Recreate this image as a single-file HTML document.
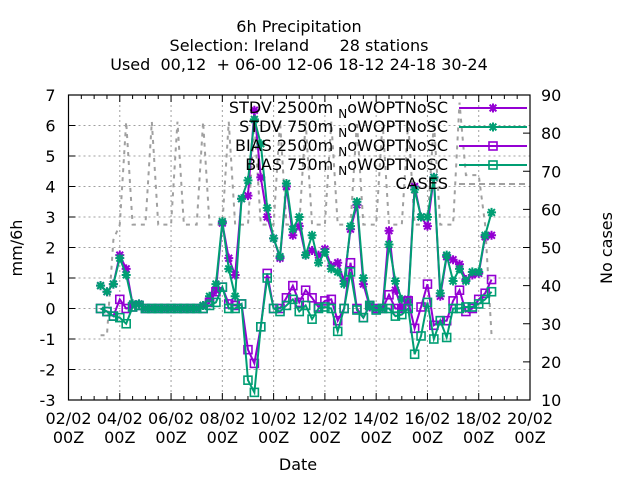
<!DOCTYPE html>
<html><head><meta charset="utf-8"><style>
body{margin:0;background:#fff}
svg text{font-family:"DejaVu Sans","Liberation Sans",sans-serif;font-size:16px;fill:#000}
</style></head><body>
<svg id="c" width="640" height="480" viewBox="0 0 640 480" xmlns="http://www.w3.org/2000/svg">
<g>
<text x="299" y="32" text-anchor="middle">6h Precipitation</text>
<text x="299" y="51" text-anchor="middle" xml:space="preserve">Selection: Ireland      28 stations</text>
<text x="299" y="70" text-anchor="middle" xml:space="preserve">Used  00,12  + 06-00 12-06 18-12 24-18 30-24</text>
</g>
<g id="grid"></g>
<g id="axes"></g>
<g id="series"></g>
<g id="legend"></g>
<text x="22" y="248" text-anchor="middle" transform="rotate(-90 22 248)">mm/6h</text>
<text x="612" y="248" text-anchor="middle" transform="rotate(-90 612 248)">No cases</text>
<text x="298" y="470" text-anchor="middle">Date</text>
</svg>
<script>
const xTickLabels=["02/02","04/02","06/02","08/02","10/02","12/02","14/02","16/02","18/02","20/02"];
const yTicks=[-3,-2,-1,0,1,2,3,4,5,6,7];
const y2Ticks=[10,20,30,40,50,60,70,80,90];
const startHour=30; // 03/02 06Z, hours since 02/02 00Z
const stdv2500=[0.75,0.55,0.8,1.75,1.3,0.15,0.15,0,0,0,0,0,0,0,0,0,0.1,0.3,0.6,2.8,1.65,1.1,3.6,3.7,6.5,4.3,3.0,2.3,1.65,4.0,2.4,2.7,1.75,1.9,1.75,1.95,1.4,1.5,0.9,2.6,3.4,0.8,0.05,0,0,2.55,0.6,0,0.3,4.0,3.0,2.7,4.3,0.4,1.7,1.6,1.45,0.95,1.1,1.15,2.35,2.4];
const stdv750=[0.75,0.55,0.8,1.65,1.1,0.15,0.15,0,0,0,0,0,0,0,0,0,0.1,0.4,0.8,2.85,1.3,0.4,3.6,4.2,6.2,5.4,3.3,2.3,1.7,4.1,2.6,3.0,1.75,2.4,1.5,1.85,1.3,1.2,0.8,2.7,3.5,1.0,0.1,0,0,2.1,0.9,0.3,0.2,3.9,3.0,3.0,4.3,0.5,1.75,0.9,1.3,0.9,1.2,1.2,2.4,3.15];
const bias2500=[0,-0.1,-0.25,0.3,0,0.05,0.1,0,0,0,0,0,0,0,0,0,0,0.2,0.55,0.7,0.15,0.1,0.15,-1.35,-1.8,-0.6,1.15,0,0,0.35,0.75,0.2,0.6,0.35,0.05,0.25,0.3,-0.4,0,1.5,0,-0.3,0.1,0,0,0.45,0,0,0.25,-0.65,0.05,0.8,-0.55,-0.4,-0.4,0.25,0.6,-0.1,0,0.3,0.5,0.95];
const bias750=[0,-0.1,-0.25,-0.3,-0.5,0.05,0.1,0,0,0,0,0,0,0,0,0,0,0.1,0.2,0.7,0,0,0.15,-2.35,-2.75,-0.6,1.0,0,-0.1,0.1,0.3,-0.1,0.1,-0.35,0,0.05,0,-0.75,0,1.2,-0.05,-0.3,0.1,-0.05,0,0,-0.25,-0.2,0,-1.5,-0.9,0.2,-1.0,-0.4,-0.95,0,0,0.05,0.05,0.15,0.3,0.55];
const cases=[27,27,52,56,83,56,56,56,83,56,56,56,83,56,56,56,83,56,56,56,83,56,56,56,83,56,56,56,83,56,56,56,83,56,56,56,83,56,56,56,83,56,56,56,83,56,56,56,83,56,56,56,83,56,56,56,88,69,69,69,56,27];

const NS="http://www.w3.org/2000/svg";
const L=68.5,R=530,T=95,B=400;
const xs=h=>L+(R-L)*h/(18*24);
const ys=v=>B-(v+3)*(B-T)/10;
const y2s=v=>B-(v-10)*(B-T)/80;
const xi=i=>xs(startHour+6*i);
function mk(tag,parent,attrs){const e=document.createElementNS(NS,tag);for(const k in attrs)e.setAttribute(k,attrs[k]);document.getElementById(parent).appendChild(e);return e;}

yTicks.forEach(v=>{const y=ys(v);
 if(v>-3&&v<7){const g=mk('line','grid',{x1:L,x2:R,y1:y,y2:y,stroke:'#a0a0a0','stroke-dasharray':'2,3'});}
 mk('line','axes',{x1:L,x2:L+7,y1:y,y2:y,stroke:'#000'});
 const t=mk('text','axes',{x:L-13,y:y+6,'text-anchor':'end'});t.textContent=v;
 });
y2Ticks.forEach(v=>{const y=y2s(v);
 mk('line','axes',{x1:R-7,x2:R,y1:y,y2:y,stroke:'#000'});
 const t=mk('text','axes',{x:R+11,y:y+6});t.textContent=v;
 });
xTickLabels.forEach((lab,k)=>{const x=xs(k*48);
 if(k>0&&k<xTickLabels.length-1){const g=mk('line','grid',{x1:x,x2:x,y1:T,y2:B,stroke:'#a0a0a0','stroke-dasharray':'2,3'});}
 mk('line','axes',{x1:x,x2:x,y1:B,y2:B-7,stroke:'#000'});mk('line','axes',{x1:x,x2:x,y1:T,y2:T+7,stroke:'#000'});
 const t=mk('text','axes',{x:x,y:424,'text-anchor':'middle'});t.textContent=lab;
 
 const t2=mk('text','axes',{x:x,y:443,'text-anchor':'middle'});t2.textContent='00Z';
 });
for(let h=12;h<18*24;h+=12){if(h%48==0)continue;const x=xs(h);
 mk('line','axes',{x1:x,x2:x,y1:B,y2:B-4,stroke:'#000'});mk('line','axes',{x1:x,x2:x,y1:T,y2:T+4,stroke:'#000'});}
const fr=mk('rect','axes',{x:L,y:T,width:R-L,height:B-T,fill:'none',stroke:'#000','stroke-width':1.2});


const cp=mk('polyline','series',{points:cases.map((v,i)=>xi(i)+','+y2s(v)).join(' '),fill:'none',stroke:'#a0a0a0','stroke-width':2,'stroke-dasharray':'4,5'});


function star(g,x,y,c){const s=4.5;mk('path',g,{d:`M${x-s},${y}H${x+s}M${x},${y-s}V${y+s}M${x-s*.75},${y-s*.75}L${x+s*.75},${y+s*.75}M${x-s*.75},${y+s*.75}L${x+s*.75},${y-s*.75}`,stroke:c,'stroke-width':2});}
function sq(g,x,y,c){mk('rect',g,{x:x-4,y:y-4,width:8,height:8,fill:'none',stroke:c,'stroke-width':1.6});}
const series=[[stdv2500,'#9400d3',star,'stdv-2500m'],[stdv750,'#009e73',star,'stdv-750m'],[bias2500,'#9400d3',sq,'bias-2500m'],[bias750,'#009e73',sq,'bias-750m']];
series.forEach(([d,c,m,n])=>{
 const p=mk('polyline','series',{points:d.map((v,i)=>xi(i)+','+ys(v)).join(' '),fill:'none',stroke:c,'stroke-width':2});
 
 d.forEach((v,i)=>m('series',xi(i),ys(v),c));});

const labels=['STDV 2500m','STDV 750m','BIAS 2500m','BIAS 750m'];
labels.forEach((lab,k)=>{const y=108+k*19;const[d,c,m,n]=series[k];
 const t=mk('text','legend',{x:448,y:y+5,'text-anchor':'end'});
 t.innerHTML=lab+' <tspan dy="5" font-size="12">N</tspan><tspan dy="-5">oWOPTNoSC</tspan>';
 
 mk('line','legend',{x1:459,x2:527,y1:y,y2:y,stroke:c,'stroke-width':2});m('legend',493,y,c);});
const ct=mk('text','legend',{x:448,y:189,'text-anchor':'end'});ct.textContent='CASES';

mk('line','legend',{x1:459,x2:527,y1:184,y2:184,stroke:'#a0a0a0','stroke-width':2,'stroke-dasharray':'6,4'});
</script>
</body></html>
